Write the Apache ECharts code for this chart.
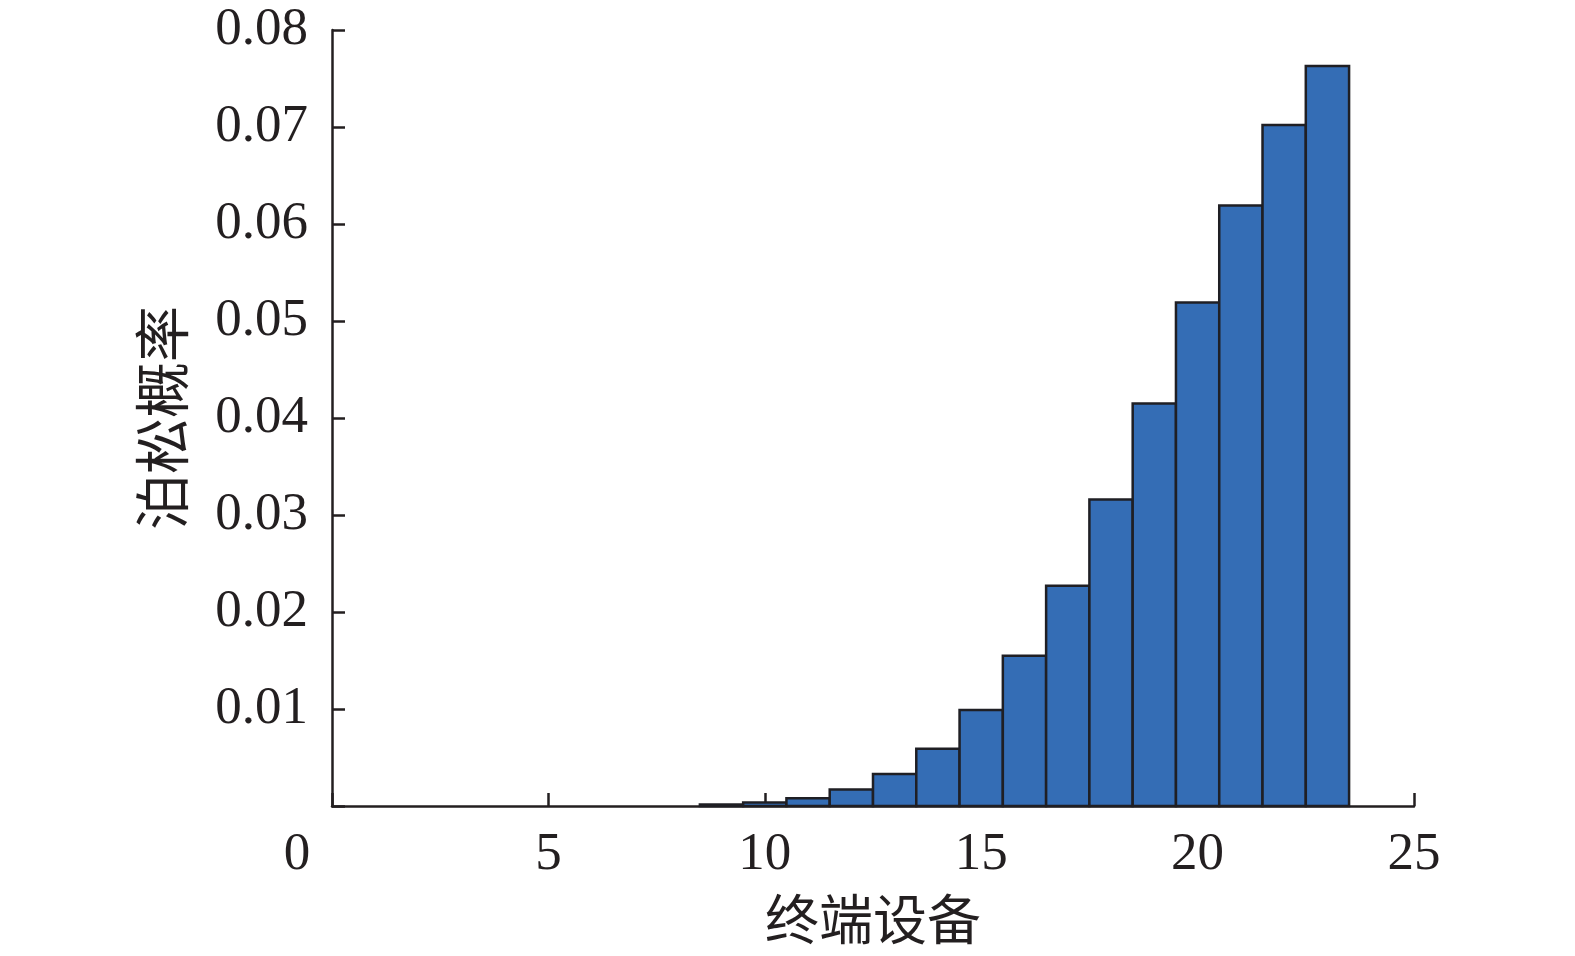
<!DOCTYPE html>
<html>
<head>
<meta charset="utf-8">
<script src="https://cdn.jsdelivr.net/npm/echarts@6/dist/echarts.min.js"></script>
<style>html,body{margin:0;padding:0;background:#fff}#c{width:1575px;height:956px}</style>
</head>
<body>
<div id="c"></div>
<script>
const devices = [9, 10, 11, 12, 13, 14, 15, 16, 17, 18, 19, 20, 21, 22, 23];
const probabilities = [0.00015, 0.00036, 0.0008, 0.0017, 0.0033, 0.0059, 0.0099, 0.0155, 0.0227, 0.0316, 0.0415, 0.0519, 0.0619, 0.0702, 0.0763];
const xTitle = '终端设备';
const yTitle = '泊松概率';

const chart = echarts.init(document.getElementById('c'));
const numFont = 'Liberation Serif';
const axisColor = '#231f20';
chart.setOption({
  animation: false,
  grid: {left: 332, right: 161, top: 30, bottom: 150},
  xAxis: {
    type: 'value', min: 0, max: 25, interval: 5,
    name: xTitle, nameLocation: 'middle', nameGap: 86,
    nameTextStyle: {fontFamily: 'Noto Sans CJK SC', fontSize: 54, color: '#231f20'},
    axisLine: {show: true, lineStyle: {color: axisColor, width: 2.5}},
    axisTick: {show: true, inside: true, length: 13, lineStyle: {color: axisColor, width: 2.5}},
    splitLine: {show: false},
    axisLabel: {
      margin: 23, fontFamily: numFont, fontSize: 53, color: '#231f20',
      formatter: v => v === 0 ? '{z|0}' : String(v),
      rich: {z: {fontFamily: numFont, fontSize: 53, color: '#231f20', padding: [0, 70, 0, 0]}}
    }
  },
  yAxis: {
    type: 'value', min: 0, max: 0.08, interval: 0.01,
    name: yTitle, nameLocation: 'middle', nameGap: 142, nameRotate: 90,
    nameTextStyle: {fontFamily: 'Noto Sans CJK SC', fontSize: 56, color: '#231f20'},
    axisLine: {show: true, lineStyle: {color: axisColor, width: 2.5}},
    axisTick: {show: true, inside: true, length: 13, lineStyle: {color: axisColor, width: 2.5}},
    splitLine: {show: false},
    axisLabel: {
      margin: 24, fontFamily: numFont, fontSize: 53, color: '#231f20',
      formatter: v => v === 0 ? '' : v.toFixed(2)
    }
  },
  series: [{
    type: 'custom',
    data: devices.map((d, i) => [d, probabilities[i]]),
    encode: {x: 0, y: 1},
    renderItem: function (params, api) {
      const x = api.value(0), y = api.value(1);
      const p0 = api.coord([x - 0.5, y]);
      const p1 = api.coord([x + 0.5, 0]);
      return {
        type: 'rect',
        shape: {x: p0[0], y: p0[1], width: p1[0] - p0[0], height: p1[1] - p0[1]},
        style: {fill: '#346db5', stroke: '#1f1f24', lineWidth: 2.5}
      };
    }
  }]
});
</script>
</body>
</html>
